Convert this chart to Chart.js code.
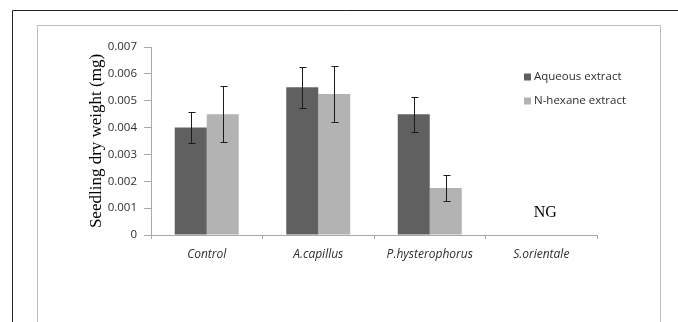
<!DOCTYPE html>
<html>
<head>
<meta charset="utf-8">
<script src="https://cdn.jsdelivr.net/npm/chart.js@4/dist/chart.umd.min.js"></script>
<style>
  html, body { margin: 0; padding: 0; background: #fff; }
  #wrap { width: 678px; height: 322px; }
</style>
</head>
<body>
<div id="wrap"><canvas id="chart" width="678" height="322"></canvas></div>
<script>
// values
const categories = ['Control', 'A.capillus', 'P.hysterophorus', 'S.orientale'];
const aqueous = [0.0040, 0.0055, 0.0045, 0];
const aqueousErr = [0.00058, 0.00077, 0.00065, 0];
const hexane = [0.0045, 0.00525, 0.00175, 0];
const hexaneErr = [0.00103, 0.00103, 0.0005, 0];
const yTicks = [0, 0.001, 0.002, 0.003, 0.004, 0.005, 0.006, 0.007];
const noGrowthLabel = 'NG';

const axisGrey = '#a8a8a8';
const textColor = '#2e2e2e';

// frame lines around the figure
const framePlugin = {
    id: 'frame',
    beforeDraw(chart) {
        const ctx = chart.ctx;
        ctx.save();
        ctx.fillStyle = '#fff';
        ctx.fillRect(0, 0, chart.width, chart.height);
        ctx.lineWidth = 1;
        ctx.strokeStyle = '#222';
        ctx.beginPath();
        ctx.moveTo(12.5, chart.height);
        ctx.lineTo(12.5, 10.5);
        ctx.lineTo(chart.width, 10.5);
        ctx.stroke();
        ctx.strokeStyle = '#bdbdbd';
        ctx.beginPath();
        ctx.moveTo(37.5, chart.height);
        ctx.lineTo(37.5, 25.5);
        ctx.lineTo(660.5, 25.5);
        ctx.lineTo(660.5, chart.height);
        ctx.stroke();
        ctx.restore();
    }
};

// error bars, NG note and legend
const extrasPlugin = {
    id: 'extras',
    afterDatasetsDraw(chart) {
        const ctx = chart.ctx;
        const y = chart.scales.y;
        const x = chart.scales.x;
        const errs = [aqueousErr, hexaneErr];
        ctx.save();
        ctx.strokeStyle = '#1a1a1a';
        ctx.lineWidth = 1;
        chart.data.datasets.forEach((ds, i) => {
            const meta = chart.getDatasetMeta(i);
            meta.data.forEach((bar, j) => {
                const v = ds.data[j];
                const e = errs[i][j];
                if (!v) return;
                const bx = Math.round(bar.x) + 0.5;
                const top = Math.round(y.getPixelForValue(v + e)) + 0.5;
                const bot = Math.round(y.getPixelForValue(v - e)) + 0.5;
                ctx.beginPath();
                ctx.moveTo(bx, top);
                ctx.lineTo(bx, bot);
                ctx.moveTo(bx - 3, top);
                ctx.lineTo(bx + 4, top);
                ctx.moveTo(bx - 3, bot);
                ctx.lineTo(bx + 4, bot);
                ctx.stroke();
            });
        });

        ctx.fillStyle = '#000';
        ctx.font = '16px "Liberation Serif"';
        ctx.textAlign = 'center';
        ctx.textBaseline = 'middle';
        ctx.fillText(noGrowthLabel, x.getPixelForValue(3) + 4, y.getPixelForValue(0.00082));

        // legend
        ctx.font = '11.5px "Open Sans"';
        ctx.textAlign = 'left';
        chart.data.datasets.forEach((ds, i) => {
            const ly = 77 + i * 24;
            ctx.fillStyle = ds.backgroundColor;
            ctx.fillRect(524, ly - 3.5, 7, 7);
            ctx.fillStyle = textColor;
            ctx.fillText(ds.label, 534, ly);
        });
        ctx.restore();
    }
};

new Chart(document.getElementById('chart'), {
    type: 'bar',
    data: {
        labels: categories,
        datasets: [
            { label: 'Aqueous extract', data: aqueous, backgroundColor: '#606060' },
            { label: 'N-hexane extract', data: hexane, backgroundColor: '#b3b3b3' }
        ]
    },
    options: {
        responsive: false,
        animation: false,
        datasets: {
            bar: { categoryPercentage: 0.574, barPercentage: 1 }
        },
        layout: {
            padding: { left: 0, top: 47, right: 81, bottom: 57 }
        },
        scales: {
            x: {
                afterFit: scale => { scale.height = 30; },
                grid: {
                    offset: true,
                    drawOnChartArea: false,
                    drawTicks: true,
                    tickLength: 4,
                    color: axisGrey
                },
                border: { display: true, color: axisGrey },
                ticks: {
                    color: textColor,
                    padding: 8,
                    font: { family: 'Open Sans', size: 12, style: 'italic' }
                }
            },
            y: {
                min: 0,
                max: 0.007,
                afterFit: scale => { scale.width = 151; },
                afterBuildTicks: scale => { scale.ticks = yTicks.map(v => ({ value: v })); },
                grid: {
                    drawOnChartArea: false,
                    drawTicks: true,
                    tickLength: 7,
                    color: axisGrey
                },
                border: { display: true, color: axisGrey },
                ticks: {
                    color: textColor,
                    padding: 7,
                    font: { family: 'Open Sans', size: 11.5 },
                    callback: v => v === 0 ? '0' : v.toFixed(3)
                },
                title: {
                    display: true,
                    text: 'Seedling dry weight (mg)',
                    color: '#000',
                    padding: { top: 86, bottom: 0 },
                    font: { family: 'Liberation Serif', size: 17 }
                }
            }
        },
        plugins: {
            legend: { display: false },
            tooltip: { enabled: false }
        }
    },
    plugins: [framePlugin, extrasPlugin]
});
</script>
</body>
</html>
